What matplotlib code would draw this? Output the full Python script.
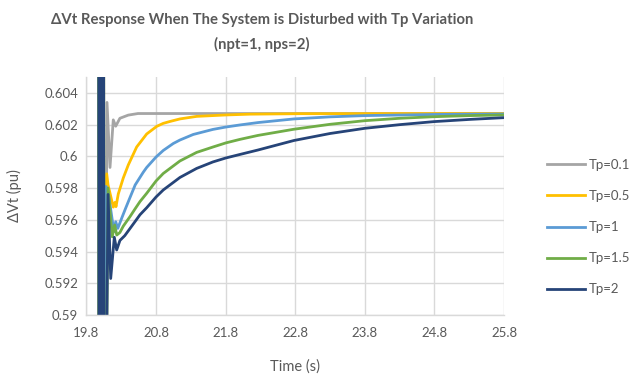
import matplotlib
matplotlib.use('Agg')
import matplotlib.pyplot as plt

plt.rcParams['font.family'] = ['Lato', 'DejaVu Sans']

# series data (time in s, delta Vt in pu)
# the disturbance at ~20 s swings far outside the plotted range
t_band = [19.972, 19.982, 19.994, 20.006, 20.018, 20.030, 20.042]
v_band = [0.640, 0.570, 0.640, 0.570, 0.640, 0.570, 0.640]

t_01 = t_band + [20.052, 20.095, 20.138, 20.185, 20.22, 20.28, 20.40, 20.54, 21.0, 25.8]
v_01 = v_band + [0.570, 0.6034, 0.5993, 0.6023, 0.6019, 0.6024, 0.6026, 0.6027, 0.6027, 0.6027]

t_05 = t_band + [20.052, 20.09, 20.11, 20.185, 20.21, 20.224, 20.257, 20.329, 20.401, 20.521, 20.665,
                 20.809, 20.903, 21.0, 21.143, 21.383, 21.804, 22.149, 22.868, 25.8]
v_05 = v_band + [0.570, 0.5989, 0.5982, 0.5968, 0.5971, 0.59683, 0.59763, 0.59864, 0.59946, 0.60059, 0.60141,
                 0.60189, 0.60208, 0.6022, 0.60236, 0.60252, 0.60261, 0.60266, 0.60269, 0.6027]

t_1 = t_band + [20.052, 20.08, 20.11, 20.195, 20.22, 20.25, 20.306, 20.36, 20.425, 20.5, 20.616, 20.665,
                20.8, 20.903, 21.047, 21.143, 21.334, 21.618, 21.804, 22.005, 22.264, 22.781, 23.299,
                23.802, 24.793, 25.8]
v_1 = v_band + [0.570, 0.5981, 0.5978, 0.59525, 0.59588, 0.59546, 0.5961, 0.5967, 0.5974, 0.5982, 0.5990, 0.5993,
                0.59996, 0.60037, 0.60081, 0.60103, 0.60138, 0.6017, 0.60185, 0.60198, 0.60213, 0.60236, 0.60249,
                0.60257, 0.60264, 0.60267]

t_15 = t_band + [20.052, 20.11, 20.17, 20.205, 20.235, 20.28, 20.329, 20.425, 20.5, 20.569, 20.665, 20.8,
                 20.903, 21.143, 21.383, 21.618, 21.804, 22.005, 22.264, 22.781, 23.299, 23.802, 24.304,
                 24.793, 25.31, 25.8]
v_15 = v_band + [0.570, 0.5980, 0.59493, 0.59567, 0.59504, 0.5952, 0.5956, 0.5962, 0.5967, 0.59715, 0.59767, 0.59845,
                 0.59892, 0.59971, 0.60025, 0.60059, 0.60085, 0.60107, 0.60132, 0.60171, 0.60202, 0.60225, 0.6024,
                 0.6025, 0.60257, 0.60261]

t_2 = t_band + [20.052, 20.11, 20.148, 20.2, 20.234, 20.281, 20.35, 20.425, 20.5, 20.569, 20.665, 20.8,
                20.903, 21.143, 21.383, 21.618, 21.804, 22.005, 22.264, 22.781, 23.299, 23.802, 24.304,
                24.793, 25.31, 25.8]
v_2 = v_band + [0.570, 0.5976, 0.5923, 0.5949, 0.5941, 0.5947, 0.5950, 0.59545, 0.5959, 0.59632, 0.59676, 0.59744,
                0.59788, 0.59867, 0.59924, 0.59965, 0.5999, 0.60012, 0.6004, 0.6010, 0.60144, 0.60177, 0.602,
                0.60219, 0.60233, 0.60244]

labels = ['Tp=0.1', 'Tp=0.5', 'Tp=1', 'Tp=1.5', 'Tp=2']
colors = ['#A5A5A5', '#FFC000', '#5B9BD5', '#70AD47', '#264478']
series = [(t_01, v_01), (t_05, v_05), (t_1, v_1), (t_15, v_15), (t_2, v_2)]

xticks = [19.8, 20.8, 21.8, 22.8, 23.8, 24.8, 25.8]
yticks = [0.59, 0.592, 0.594, 0.596, 0.598, 0.6, 0.602, 0.604]
ytick_labels = ['0.59', '0.592', '0.594', '0.596', '0.598', '0.6', '0.602', '0.604']

fig = plt.figure(figsize=(6.34, 3.74), dpi=100)
ax = fig.add_axes([0.1364, 0.1578, 0.795 - 0.1364, 0.794 - 0.1578])

for (t, v), lab, c in zip(series, labels, colors):
    ax.plot(t, v, color=c, lw=2.0, label=lab, solid_joinstyle='round')

ax.set_xlim(19.8, 25.8)
ax.set_ylim(0.59, 0.605)
ax.set_xticks(xticks)
ax.set_xticklabels([str(x) for x in xticks])
ax.set_yticks(yticks)
ax.set_yticklabels(ytick_labels)
ax.grid(True, color='#D9D9D9', lw=1.0)
ax.set_axisbelow(True)
ax.tick_params(length=0, colors='#595959', labelsize=9.5)
ax.tick_params(axis='x', pad=9)
ax.tick_params(axis='y', pad=6)
for s in ['top', 'right']:
    ax.spines[s].set_visible(False)
for s in ['left', 'bottom']:
    ax.spines[s].set_color('#D9D9D9')
    ax.spines[s].set_linewidth(1.0)

ax.set_xlabel('Time (s)', color='#595959', fontsize=10.5, labelpad=14)
ax.set_ylabel('ΔVt (pu)', color='#595959', fontsize=10.5, labelpad=16)

fig.text(0.413, 1 - 20 / 374, 'ΔVt Response When The System is Disturbed with Tp Variation',
         ha='center', va='center', fontsize=10.7, fontweight='bold', color='#595959')
fig.text(0.413, 1 - 44 / 374, '(npt=1, nps=2)',
         ha='center', va='center', fontsize=10.7, fontweight='bold', color='#595959')

leg = ax.legend(loc='upper left', bbox_to_anchor=(1.09, 0.678), frameon=False, fontsize=9.5,
                labelcolor='#595959', handlelength=2.9, handletextpad=0.3, labelspacing=1.45,
                borderaxespad=0)

fig.savefig('out.png', dpi=100)
